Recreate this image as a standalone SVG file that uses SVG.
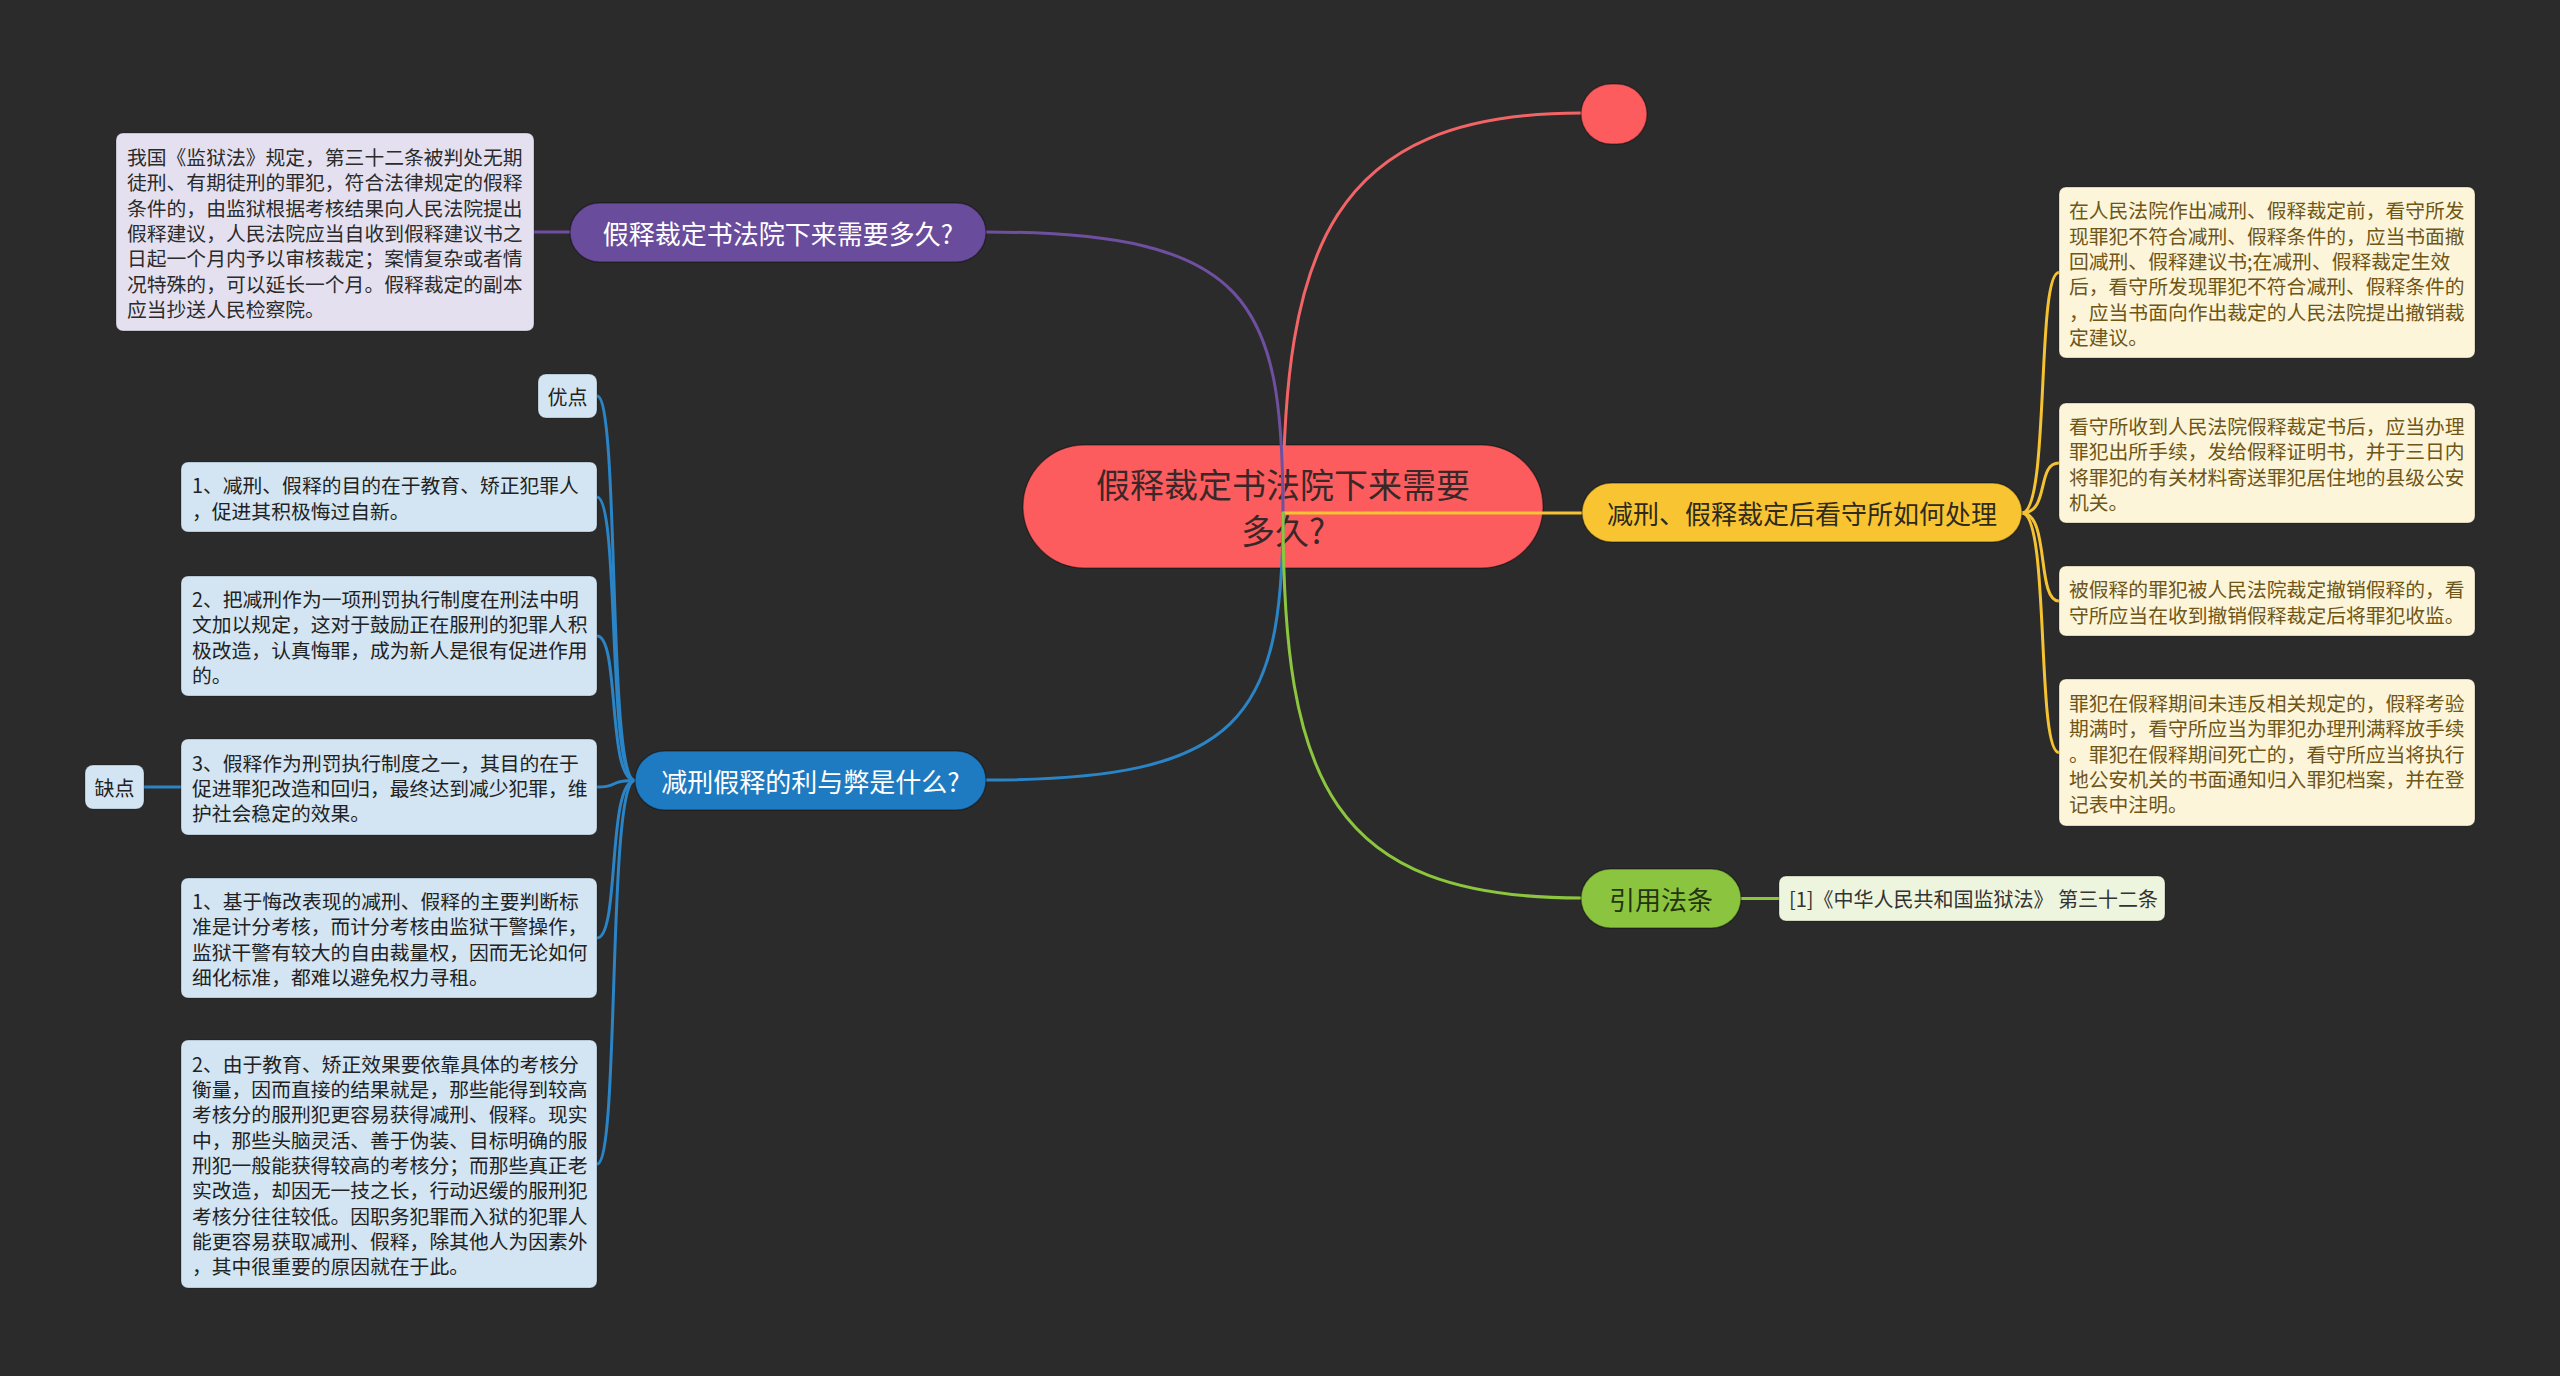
<svg xmlns="http://www.w3.org/2000/svg" width="2560" height="1376" viewBox="0 0 2560 1376">
<style>
text{font-family:"Noto Sans CJK SC","Microsoft YaHei",sans-serif;dominant-baseline:central}
.t{font-size:19.8px}
.pill{font-size:26px}
.conn{fill:none;stroke-width:3;stroke-linecap:round}
.pl{stroke:rgba(0,0,0,0.35);stroke-width:1.5}
.box{stroke:rgba(0,0,0,0.25);stroke-width:1}
</style>
<rect x="0" y="0" width="2560" height="1376" fill="#2b2b2b"/>

<g id="center">
<rect class="pl" x="1023" y="445" width="520" height="123" rx="61.5" fill="#fd5c5f"/>
<text x="1283" y="483" font-size="34" fill="#3a2828" text-anchor="middle">假释裁定书法院下来需要</text>
<text x="1283" y="529" font-size="34" fill="#3a2828" text-anchor="middle">多久?</text>
</g>

<g id="connectors">
<path class="conn" stroke="#f26466" d="M1283 513 C1283 250 1330 113 1581 113"/>
<path class="conn" stroke="#6f4f9f" d="M1283 513 C1283 300 1250 232 986 232"/>
<path class="conn" stroke="#f4c232" d="M1283 513 L1582 513"/>
<path class="conn" stroke="#2a84c6" d="M1283 513 C1283 720 1240 780 986 780"/>
<path class="conn" stroke="#8cc63f" d="M1283 513 C1283 780 1330 898 1581 898"/>
<path class="conn" stroke="#6f4f9f" d="M570 232 L534 232"/>
<path class="conn" stroke="#f4c232" d="M2022 513 C2050 513 2036 272.5 2059 272.5"/>
<path class="conn" stroke="#f4c232" d="M2022 513 C2050 513 2036 463 2059 463"/>
<path class="conn" stroke="#f4c232" d="M2022 513 C2050 513 2036 601 2059 601"/>
<path class="conn" stroke="#f4c232" d="M2022 513 C2050 513 2036 752.5 2059 752.5"/>
<path class="conn" stroke="#8cc63f" d="M1741 898.5 L1779 898.5"/>
<path class="conn" stroke="#2a84c6" d="M635 780.5 C607 780.5 620 396 597 396"/>
<path class="conn" stroke="#2a84c6" d="M635 780.5 C607 780.5 620 497 597 497"/>
<path class="conn" stroke="#2a84c6" d="M635 780.5 C607 780.5 620 636 597 636"/>
<path class="conn" stroke="#2a84c6" d="M635 780.5 C607 780.5 620 787 597 787"/>
<path class="conn" stroke="#2a84c6" d="M635 780.5 C607 780.5 620 938 597 938"/>
<path class="conn" stroke="#2a84c6" d="M635 780.5 C607 780.5 620 1164 597 1164"/>
<path class="conn" stroke="#2a84c6" d="M144 787 L181 787"/>
</g>

<g id="n-empty">
<rect class="pl" x="1581" y="84" width="66" height="60" rx="30" fill="#fd5c5f"/>
</g>

<g id="n-purple">
<rect class="pl" x="570" y="203" width="416" height="59" rx="29.5" fill="#6a4c9c"/>
<text class="pill" x="778" y="232.5" fill="#ffffff" text-anchor="middle">假释裁定书法院下来需要多久?</text>
</g>
<g id="n-purple-1">
<rect class="box" x="116" y="133" width="418" height="198" rx="7" fill="#e4e0ef"/>
<text class="t" fill="#2b2b2b">
<tspan x="127" y="156.1">我国《监狱法》规定，第三十二条被判处无期</tspan>
<tspan x="127" y="181.4">徒刑、有期徒刑的罪犯，符合法律规定的假释</tspan>
<tspan x="127" y="206.7">条件的，由监狱根据考核结果向人民法院提出</tspan>
<tspan x="127" y="232">假释建议，人民法院应当自收到假释建议书之</tspan>
<tspan x="127" y="257.3">日起一个月内予以审核裁定；案情复杂或者情</tspan>
<tspan x="127" y="282.6">况特殊的，可以延长一个月。假释裁定的副本</tspan>
<tspan x="127" y="307.9">应当抄送人民检察院。</tspan>
</text>
</g>

<g id="n-yellow">
<rect class="pl" x="1582" y="483" width="440" height="59" rx="29.5" fill="#f8c432"/>
<text class="pill" x="1802" y="512.5" fill="#2e2a1e" text-anchor="middle">减刑、假释裁定后看守所如何处理</text>
</g>
<g id="n-yellow-1">
<rect class="box" x="2059" y="187" width="416" height="171" rx="7" fill="#fdf5d9"/>
<text class="t" fill="#6e5618">
<tspan x="2069" y="209.3">在人民法院作出减刑、假释裁定前，看守所发</tspan>
<tspan x="2069" y="234.6">现罪犯不符合减刑、假释条件的，应当书面撤</tspan>
<tspan x="2069" y="259.9">回减刑、假释建议书;在减刑、假释裁定生效</tspan>
<tspan x="2069" y="285.2">后，看守所发现罪犯不符合减刑、假释条件的</tspan>
<tspan x="2069" y="310.5">，应当书面向作出裁定的人民法院提出撤销裁</tspan>
<tspan x="2069" y="335.8">定建议。</tspan>
</text>
</g>
<g id="n-yellow-2">
<rect class="box" x="2059" y="403" width="416" height="120" rx="7" fill="#fdf5d9"/>
<text class="t" fill="#6e5618">
<tspan x="2069" y="425.1">看守所收到人民法院假释裁定书后，应当办理</tspan>
<tspan x="2069" y="450.4">罪犯出所手续，发给假释证明书，并于三日内</tspan>
<tspan x="2069" y="475.7">将罪犯的有关材料寄送罪犯居住地的县级公安</tspan>
<tspan x="2069" y="501">机关。</tspan>
</text>
</g>
<g id="n-yellow-3">
<rect class="box" x="2059" y="566" width="416" height="70" rx="7" fill="#fdf5d9"/>
<text class="t" fill="#6e5618">
<tspan x="2069" y="588.4">被假释的罪犯被人民法院裁定撤销假释的，看</tspan>
<tspan x="2069" y="613.7">守所应当在收到撤销假释裁定后将罪犯收监。</tspan>
</text>
</g>
<g id="n-yellow-4">
<rect class="box" x="2059" y="679" width="416" height="147" rx="7" fill="#fdf5d9"/>
<text class="t" fill="#6e5618">
<tspan x="2069" y="701.9">罪犯在假释期间未违反相关规定的，假释考验</tspan>
<tspan x="2069" y="727.2">期满时，看守所应当为罪犯办理刑满释放手续</tspan>
<tspan x="2069" y="752.5">。罪犯在假释期间死亡的，看守所应当将执行</tspan>
<tspan x="2069" y="777.8">地公安机关的书面通知归入罪犯档案，并在登</tspan>
<tspan x="2069" y="803.1">记表中注明。</tspan>
</text>
</g>

<g id="n-green">
<rect class="pl" x="1581" y="869" width="160" height="59" rx="29.5" fill="#8bc53f"/>
<text class="pill" x="1661" y="898.5" fill="#26330f" text-anchor="middle">引用法条</text>
</g>
<g id="n-green-1">
<rect class="box" x="1779" y="876" width="386" height="45" rx="7" fill="#eef5de"/>
<text x="1789" y="898.5" font-size="20" fill="#333333">[1]《中华人民共和国监狱法》 第三十二条</text>
</g>

<g id="n-blue">
<rect class="pl" x="635" y="751" width="351" height="59" rx="29.5" fill="#1f7bc1"/>
<text class="pill" x="810.5" y="780.5" fill="#ffffff" text-anchor="middle">减刑假释的利与弊是什么?</text>
</g>
<g id="n-blue-pro">
<rect class="box" x="538" y="374" width="59" height="44" rx="8" fill="#d3e5f3"/>
<text x="567.5" y="396" font-size="20" fill="#222222" text-anchor="middle">优点</text>
</g>
<g id="n-blue-1">
<rect class="box" x="181" y="462" width="416" height="70" rx="7" fill="#d3e5f3"/>
<text class="t" fill="#222222">
<tspan x="192" y="484.4">1、减刑、假释的目的在于教育、矫正犯罪人</tspan>
<tspan x="192" y="509.7">，促进其积极悔过自新。</tspan>
</text>
</g>
<g id="n-blue-2">
<rect class="box" x="181" y="576" width="416" height="120" rx="7" fill="#d3e5f3"/>
<text class="t" fill="#222222">
<tspan x="192" y="598.1">2、把减刑作为一项刑罚执行制度在刑法中明</tspan>
<tspan x="192" y="623.4">文加以规定，这对于鼓励正在服刑的犯罪人积</tspan>
<tspan x="192" y="648.7">极改造，认真悔罪，成为新人是很有促进作用</tspan>
<tspan x="192" y="674">的。</tspan>
</text>
</g>
<g id="n-blue-3">
<rect class="box" x="181" y="739" width="416" height="96" rx="7" fill="#d3e5f3"/>
<text class="t" fill="#222222">
<tspan x="192" y="761.7">3、假释作为刑罚执行制度之一，其目的在于</tspan>
<tspan x="192" y="787">促进罪犯改造和回归，最终达到减少犯罪，维</tspan>
<tspan x="192" y="812.3">护社会稳定的效果。</tspan>
</text>
</g>
<g id="n-blue-con">
<rect class="box" x="85" y="765" width="59" height="44" rx="8" fill="#d3e5f3"/>
<text x="114.5" y="787" font-size="20" fill="#222222" text-anchor="middle">缺点</text>
</g>
<g id="n-blue-4">
<rect class="box" x="181" y="878" width="416" height="120" rx="7" fill="#d3e5f3"/>
<text class="t" fill="#222222">
<tspan x="192" y="900.1">1、基于悔改表现的减刑、假释的主要判断标</tspan>
<tspan x="192" y="925.4">准是计分考核，而计分考核由监狱干警操作，</tspan>
<tspan x="192" y="950.7">监狱干警有较大的自由裁量权，因而无论如何</tspan>
<tspan x="192" y="976">细化标准，都难以避免权力寻租。</tspan>
</text>
</g>
<g id="n-blue-5">
<rect class="box" x="181" y="1040" width="416" height="248" rx="7" fill="#d3e5f3"/>
<text class="t" fill="#222222">
<tspan x="192" y="1062.8">2、由于教育、矫正效果要依靠具体的考核分</tspan>
<tspan x="192" y="1088.1">衡量，因而直接的结果就是，那些能得到较高</tspan>
<tspan x="192" y="1113.4">考核分的服刑犯更容易获得减刑、假释。现实</tspan>
<tspan x="192" y="1138.7">中，那些头脑灵活、善于伪装、目标明确的服</tspan>
<tspan x="192" y="1164">刑犯一般能获得较高的考核分；而那些真正老</tspan>
<tspan x="192" y="1189.3">实改造，却因无一技之长，行动迟缓的服刑犯</tspan>
<tspan x="192" y="1214.6">考核分往往较低。因职务犯罪而入狱的犯罪人</tspan>
<tspan x="192" y="1239.9">能更容易获取减刑、假释，除其他人为因素外</tspan>
<tspan x="192" y="1265.2">，其中很重要的原因就在于此。</tspan>
</text>
</g>
</svg>
